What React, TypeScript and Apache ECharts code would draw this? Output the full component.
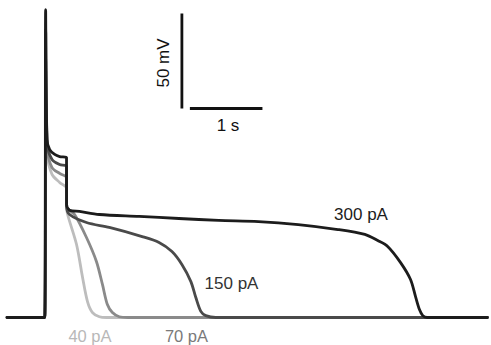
import React, { useEffect, useRef } from "react";
import * as echarts from "echarts";

// time in seconds (0 = stimulus onset), membrane potential in mV
const trace300pA: [number, number][] = [
  [-0.52, -80], [0, -80], [0.012, 82], [0.03, 13.7], [0.068, 8.4], [0.137, 5.8], [0.205, 4.7], [0.3, 4.2],
  [0.301, -20.5], [0.342, -23.5], [0.479, -24.2], [0.753, -25.8], [1.301, -26.8], [1.849, -27.9],
  [2.397, -28.9], [2.945, -29.5], [3.493, -31.1], [4.041, -33.7], [4.411, -36.3], [4.589, -39.5],
  [4.726, -42.6], [4.904, -51.1], [5.041, -60], [5.11, -69], [5.164, -75.8], [5.21, -79], [5.27, -80], [6.1, -80],
];
const trace150pA: [number, number][] = [
  [-0.52, -80], [0, -80], [0.013, 71.6], [0.035, 11.1], [0.1, 3.2], [0.205, 0.5], [0.3, -0.5],
  [0.301, -21.6], [0.342, -25.8], [0.575, -30], [0.89, -32.6], [1.342, -37.4], [1.575, -40.5],
  [1.753, -45.3], [1.89, -52.1], [2.014, -61.1], [2.082, -69.5], [2.151, -76.8], [2.219, -79],
  [2.356, -80], [6.1, -80],
];
const trace70pA: [number, number][] = [
  [-0.52, -80], [0, -80], [0.014, 56], [0.035, 8.4], [0.1, -1.1], [0.205, -4.2], [0.3, -6.5],
  [0.301, -21.6], [0.411, -25.8], [0.575, -37.9], [0.712, -50.5], [0.795, -62.6], [0.863, -73.2],
  [0.932, -77.4], [1.027, -79.6], [1.15, -80], [6.1, -80],
];
const trace40pA: [number, number][] = [
  [-0.52, -80], [0, -80], [0.015, 50], [0.035, 5.8], [0.1, -4.7], [0.205, -8.9], [0.3, -12],
  [0.301, -21.6], [0.315, -25.8], [0.438, -41.6], [0.521, -58.9], [0.589, -71.6], [0.658, -77.4],
  [0.753, -79.6], [0.85, -80], [6.1, -80],
];
const seriesNames = ["40 pA", "70 pA", "150 pA", "300 pA"];
const seriesColors = ["#bdbdbd", "#8a8a8a", "#4a4a4a", "#1c1c1c"];
const labelColors = ["#b8b8b8", "#7a7a7a", "#333333", "#1c1c1c"];

// scale bars: 50 mV vertical, 1 s horizontal
const scaleBarV: [number, number][] = [[1.89, 30], [1.89, 80]];
const scaleBarH: [number, number][] = [[2.0, 30], [3.0, 30]];
const scaleLabelV = "50 mV";
const scaleLabelH = "1 s";

export default function App() {
  const ref = useRef<HTMLDivElement>(null);
  useEffect(() => {
    if (!ref.current) return;
    const chart = echarts.init(ref.current, undefined, { renderer: "svg" });
    const H = 345;
    const pxPerS = 73, pxPerMv = 1.9;
    const x0 = 45, baseY = 317.5;
    const xMin = -0.55, xMax = 6.15;
    const yMax = -80 + baseY / pxPerMv;
    const yMin = yMax - H / pxPerMv;
    const traces = [trace40pA, trace70pA, trace150pA, trace300pA];
    const font = "'Liberation Sans', Arial, Helvetica, sans-serif";
    const txt = (x: number, y: number, text: string, fill: string, size: number, extra: any = {}) => ({
      type: "text", x, y, ...extra,
      style: { text, fill, font: `${size}px ${font}`, align: "center", verticalAlign: "middle" },
    });
    chart.setOption({
      animation: false,
      backgroundColor: "#ffffff",
      grid: { left: x0 + xMin * pxPerS, top: 0, width: (xMax - xMin) * pxPerS, height: H },
      xAxis: { type: "value", min: xMin, max: xMax, show: false },
      yAxis: { type: "value", min: yMin, max: yMax, show: false },
      series: [
        ...traces.map((d, i) => ({
          type: "line",
          name: seriesNames[i],
          data: d,
          showSymbol: false,
          smooth: 0.3,
          lineStyle: { color: seriesColors[i], width: 2.8, join: "round", cap: "round" },
          z: 2 + i,
        })),
        {
          type: "line", data: scaleBarV, showSymbol: false,
          lineStyle: { color: "#111", width: 2.8 }, z: 10,
        },
        {
          type: "line", data: scaleBarH, showSymbol: false,
          lineStyle: { color: "#111", width: 2.8 }, z: 10,
        },
      ],
      graphic: [
        txt(361, 214, seriesNames[3], labelColors[3], 17),
        txt(231.5, 283.5, seriesNames[2], labelColors[2], 17),
        txt(90, 335.5, seriesNames[0], labelColors[0], 16.5),
        txt(186.5, 335.5, seriesNames[1], labelColors[1], 16.5),
        txt(228, 125, scaleLabelH, "#111", 17),
        txt(163.5, 63, scaleLabelV, "#111", 17, { rotation: Math.PI / 2 }),
      ],
    });
    return () => chart.dispose();
  }, []);
  return <div ref={ref} style={{ position: "fixed", left: 0, top: 0, width: 491, height: 345 }} />;
}
